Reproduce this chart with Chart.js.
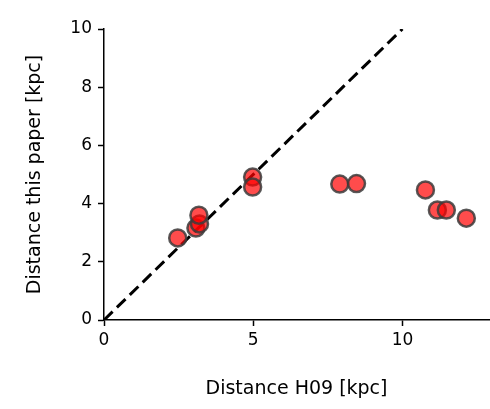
<!DOCTYPE html>
<html><head>
<script src="https://cdn.jsdelivr.net/npm/chart.js@4"></script>
<style>body{margin:0;background:#fff;overflow:hidden}#wrap{width:500px;height:409px}</style>
</head><body><div id="wrap"><canvas id="c"></canvas></div>
<script>
const h09 = [2.47, 3.08, 3.2, 3.18, 4.98, 4.98, 7.9, 8.46, 10.77, 11.17, 11.47, 12.14];
const thisPaper = [2.82, 3.16, 3.3, 3.6, 4.91, 4.57, 4.67, 4.69, 4.47, 3.78, 3.78, 3.5];
const xTicks = [0, 5, 10];
const yTicks = [0, 2, 4, 6, 8, 10];
const oneToOne = [{x: 0, y: 0}, {x: 10, y: 10}];

const tickFont = {family: 'DejaVu Sans', size: 17};
const titleFont = {family: 'DejaVu Sans', size: 19};

new Chart(document.getElementById('c'), {
  type: 'scatter',
  data: {
    datasets: [{
      data: h09.map((v, i) => ({x: v, y: thisPaper[i]})),
      backgroundColor: 'rgba(255,0,0,0.7)',
      borderColor: 'rgba(60,60,60,0.85)',
      borderWidth: 2.5,
      pointRadius: 8.5
    }, {
      type: 'line',
      data: oneToOne,
      borderColor: '#000',
      borderWidth: 3,
      borderDash: [12, 6],
      pointRadius: 0,
      fill: false
    }]
  },
  options: {
    responsive: true,
    maintainAspectRatio: false,
    animation: false,
    layout: {padding: {top: 29, right: 0, left: 20, bottom: 5}},
    plugins: {legend: {display: false}, tooltip: {enabled: false}},
    scales: {
      x: {
        min: 0, max: 12.9,
        afterBuildTicks: a => { a.ticks = xTicks.map(v => ({value: v})); },
        afterFit: a => { a.height = 84; },
        grid: {display: true, drawOnChartArea: false, drawTicks: true, tickLength: 6, tickColor: '#000', tickWidth: 1.5},
        border: {color: '#000', width: 1.5},
        ticks: {color: '#000', font: tickFont, padding: 4},
        title: {display: true, text: 'Distance H09 [kpc]', color: '#000', font: titleFont, padding: {top: 6}}
      },
      y: {
        min: 0, max: 10,
        afterBuildTicks: a => { a.ticks = yTicks.map(v => ({value: v})); },
        afterFit: a => { a.width = 84; },
        grid: {display: true, drawOnChartArea: false, drawTicks: true, tickLength: 6, tickColor: '#000', tickWidth: 1.5},
        border: {color: '#000', width: 1.5},
        ticks: {color: '#000', font: tickFont, padding: 6},
        title: {display: true, text: 'Distance this paper [kpc]', color: '#000', font: titleFont, padding: {bottom: 14}}
      }
    }
  }
});
</script></body></html>
